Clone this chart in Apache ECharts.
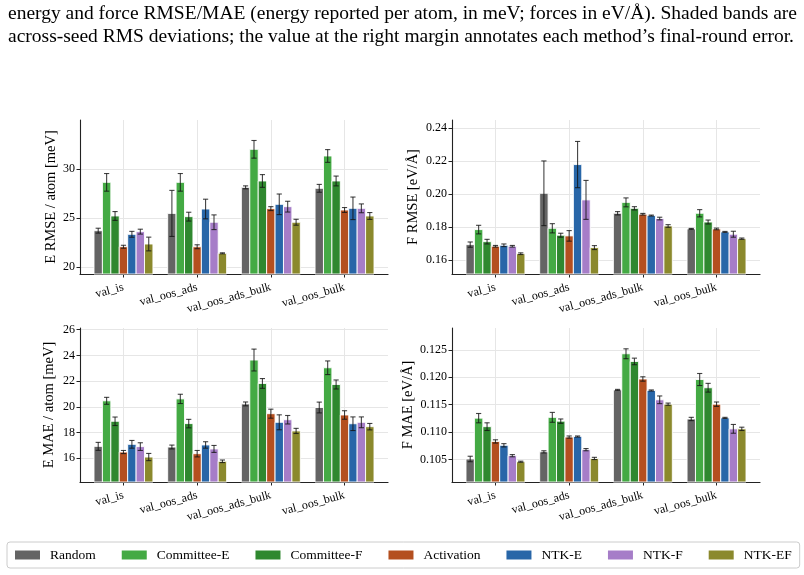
<!DOCTYPE html>
<html>
<head>
<meta charset="utf-8">
<script src="https://cdn.jsdelivr.net/npm/echarts@6/dist/echarts.min.js"></script>
<style>html,body{margin:0;padding:0;background:#fff}#c{width:804px;height:575px}</style>
</head>
<body>
<div id="c"></div>
<script>
// ---------- data ----------
const categories = ['val_is', 'val_oos_ads', 'val_oos_ads_bulk', 'val_oos_bulk'];
const methods = ['Random', 'Committee-E', 'Committee-F', 'Activation', 'NTK-E', 'NTK-F', 'NTK-EF'];
const methodColors = ['#646464', '#44aa44', '#2f882f', '#b44f1f', '#2866a8', '#a67dc8', '#8b892d'];

// rows = methods, columns = categories
const eRmseMean = [
  [23.74, 25.50, 28.16, 28.06],
  [28.67, 28.67, 32.04, 31.36],
  [25.24, 25.17, 28.81, 28.81],
  [22.10, 22.10, 25.99, 25.85],
  [23.37, 25.95, 26.43, 26.02],
  [23.64, 24.60, 26.19, 26.02],
  [22.38, 21.43, 24.60, 25.24]
];
const eRmseErr = [
  [0.25, 2.35, 0.15, 0.40],
  [0.90, 0.90, 0.90, 0.65],
  [0.45, 0.45, 0.65, 0.50],
  [0.15, 0.20, 0.20, 0.25],
  [0.30, 1.00, 1.05, 1.15],
  [0.25, 0.75, 0.55, 0.45],
  [0.70, 0.05, 0.30, 0.35]
];
const fRmseMean = [
  [0.1695, 0.2006, 0.1885, 0.1790],
  [0.1786, 0.1794, 0.1951, 0.1885],
  [0.1713, 0.1752, 0.1915, 0.1832],
  [0.1685, 0.1748, 0.1879, 0.1790],
  [0.1691, 0.2180, 0.1871, 0.1772],
  [0.1685, 0.1966, 0.1853, 0.1758],
  [0.1640, 0.1677, 0.1808, 0.1731]
];
const fRmseErr = [
  [0.0016, 0.0196, 0.0010, 0.0003],
  [0.0026, 0.0028, 0.0027, 0.0022],
  [0.0014, 0.0012, 0.0010, 0.0012],
  [0.0005, 0.0032, 0.0005, 0.0005],
  [0.0008, 0.0140, 0.0003, 0.0003],
  [0.0005, 0.0118, 0.0008, 0.0018],
  [0.0005, 0.0012, 0.0008, 0.0004]
];
const eMaeMean = [
  [16.93, 16.88, 20.23, 19.95],
  [20.47, 20.62, 23.64, 23.04],
  [18.88, 18.70, 21.82, 21.74],
  [16.49, 16.36, 19.47, 19.37],
  [17.09, 17.04, 18.80, 18.69],
  [16.91, 16.73, 19.00, 18.80],
  [16.10, 15.77, 18.13, 18.46]
];
const eMaeErr = [
  [0.31, 0.15, 0.15, 0.42],
  [0.27, 0.36, 0.85, 0.53],
  [0.33, 0.33, 0.38, 0.35],
  [0.12, 0.25, 0.35, 0.33],
  [0.30, 0.25, 0.58, 0.53],
  [0.30, 0.27, 0.33, 0.42],
  [0.28, 0.10, 0.20, 0.25]
];
const fMaeMean = [
  [0.1051, 0.1064, 0.1177, 0.1124],
  [0.11255, 0.1127, 0.1243, 0.1196],
  [0.1110, 0.1120, 0.1229, 0.1181],
  [0.1083, 0.1091, 0.1197, 0.1151],
  [0.1076, 0.1092, 0.1176, 0.1126],
  [0.1057, 0.1068, 0.1159, 0.1106],
  [0.1046, 0.1052, 0.1151, 0.1106]
];
const fMaeErr = [
  [0.0005, 0.0002, 0.0001, 0.0003],
  [0.00085, 0.0009, 0.0009, 0.0011],
  [0.0007, 0.0004, 0.0006, 0.0008],
  [0.0003, 0.0002, 0.0004, 0.0004],
  [0.0003, 0.0001, 0.0001, 0.0001],
  [0.0002, 0.0002, 0.0007, 0.0008],
  [0.0001, 0.0002, 0.0002, 0.0003]
];

const eRmseTicks = [20, 25, 30];
const fRmseTicks = [0.16, 0.18, 0.20, 0.22, 0.24];
const eMaeTicks = [16, 18, 20, 22, 24, 26];
const fMaeTicks = [0.105, 0.110, 0.115, 0.120, 0.125];

const captionLines = [
  'energy and force RMSE/MAE (energy reported per atom, in meV; forces in eV/Å). Shaded bands are',
  'across-seed RMS deviations; the value at the right margin annotates each method\u2019s final-round error.'
];

// ---------- layout / style ----------
const FONT = 'Liberation Serif';
const panels = [
  {mean: eRmseMean, err: eRmseErr, ticks: eRmseTicks, min: 19.32, max: 35.03, name: 'E RMSE / atom [meV]', dec: 0, grid: {left: 80, top: 120}, gap: 21},
  {mean: fRmseMean, err: fRmseErr, ticks: fRmseTicks, min: 0.1517, max: 0.245, name: 'F RMSE [eV/Å]', dec: 2, grid: {left: 452, top: 120}, gap: 31},
  {mean: eMaeMean, err: eMaeErr, ticks: eMaeTicks, min: 14.16, max: 26.13, name: 'E MAE / atom [meV]', dec: 0, grid: {left: 80, top: 328}, gap: 23},
  {mean: fMaeMean, err: fMaeErr, ticks: fMaeTicks, min: 0.1009, max: 0.129, name: 'F MAE [eV/Å]', dec: 3, grid: {left: 452, top: 328}, gap: 36}
];
const nM = methods.length;
const barW = 0.8 / nM;
const catIdx = categories.map((c, i) => i);

const grids = [], xAxes = [], yAxes = [], series = [];
panels.forEach((p, pi) => {
  grids.push({left: p.grid.left, top: p.grid.top, width: 308, height: 154});
  xAxes.push({
    type: 'value', gridIndex: pi, min: -0.59, max: 3.59,
    axisLine: {show: true, onZero: false, lineStyle: {color: '#222', width: 1.2}},
    axisTick: {show: true, customValues: catIdx, length: 3.5, lineStyle: {color: '#222'}},
    axisLabel: {customValues: catIdx, formatter: v => categories[Math.round(v)], rotate: 15,
      fontFamily: FONT, fontSize: 12, color: '#000', margin: 13},
    splitLine: {show: true, lineStyle: {color: '#e6e6e6', width: 1}}
  });
  yAxes.push({
    type: 'value', gridIndex: pi, min: p.min, max: p.max,
    name: p.name, nameLocation: 'middle', nameRotate: 90, nameGap: p.gap,
    nameTextStyle: {fontFamily: FONT, fontSize: 14.5, color: '#000'},
    axisLine: {show: true, onZero: false, lineStyle: {color: '#222', width: 1.1}},
    axisTick: {show: true, customValues: p.ticks, length: 3.5, lineStyle: {color: '#222'}},
    axisLabel: {customValues: p.ticks, formatter: v => v.toFixed(p.dec),
      fontFamily: FONT, fontSize: 12, color: '#000', margin: 5},
    splitLine: {show: true, lineStyle: {color: '#e6e6e6', width: 1}}
  });
  methods.forEach((m, mi) => {
    const data = categories.map((c, ci) => [ci, p.mean[mi][ci], p.err[mi][ci]]);
    series.push({
      type: 'custom', name: m, xAxisIndex: pi, yAxisIndex: pi,
      itemStyle: {color: methodColors[mi]},
      data: data,
      renderItem: (params, api) => {
        const x = api.value(0) + (mi - (nM - 1) / 2) * barW;
        const v = api.value(1), e = api.value(2);
        const tl = api.coord([x - barW / 2, v]);
        const br = api.coord([x + barW / 2, p.min]);
        const c = api.coord([x, v]);
        const hi = api.coord([x, v + e]);
        const lo = api.coord([x, v - e]);
        const cap = 2.6;
        const ebStyle = {stroke: 'rgba(20,20,20,0.8)', lineWidth: 1.1};
        return {
          type: 'group',
          children: [
            {type: 'rect', shape: {x: tl[0], y: tl[1], width: br[0] - tl[0], height: br[1] - tl[1]},
             style: {fill: methodColors[mi], stroke: '#fff', lineWidth: 0.9}},
            {type: 'line', shape: {x1: c[0], y1: hi[1], x2: c[0], y2: lo[1]}, style: ebStyle},
            {type: 'line', shape: {x1: c[0] - cap, y1: hi[1], x2: c[0] + cap, y2: hi[1]}, style: ebStyle},
            {type: 'line', shape: {x1: c[0] - cap, y1: lo[1], x2: c[0] + cap, y2: lo[1]}, style: ebStyle}
          ]
        };
      }
    });
  });
});

const chart = echarts.init(document.getElementById('c'), null, {renderer: 'canvas'});
chart.setOption({
  animation: false,
  backgroundColor: '#fff',
  grid: grids, xAxis: xAxes, yAxis: yAxes, series: series,
  legend: {
    data: methods, left: 7, top: 542, icon: 'rect', itemWidth: 25, itemHeight: 9, itemGap: 26,
    padding: [6, 8, 6, 8], borderColor: '#cccccc', borderWidth: 1, borderRadius: 3,
    textStyle: {fontFamily: FONT, fontSize: 13.5, color: '#000', padding: [0, 0, 0, 5]}
  },
  graphic: captionLines.map((t, i) => ({
    type: 'text', left: 8, top: 4 + i * 23,
    style: {text: t, font: '19.5px "Liberation Serif"', fill: '#000'}
  }))
});
</script>
</body>
</html>
